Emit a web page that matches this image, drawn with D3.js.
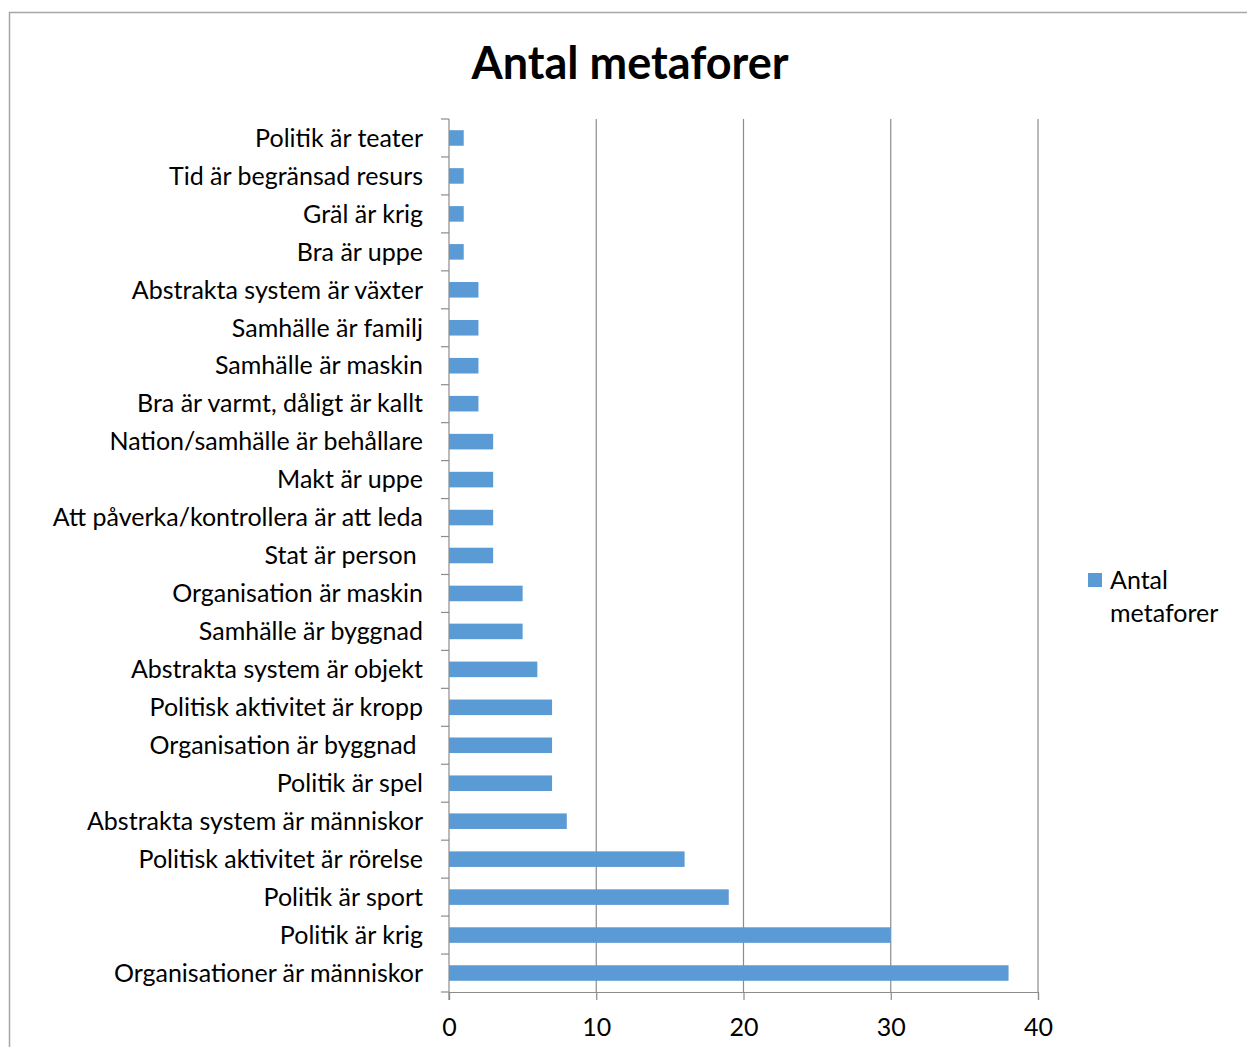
<!DOCTYPE html>
<html>
<head>
<meta charset="utf-8">
<script src="https://cdn.jsdelivr.net/npm/d3@7"></script>
<style>
  body { margin: 0; background: #fff; }
  text { font-family: Lato, "Open Sans", sans-serif; fill: #000; }
</style>
</head>
<body>
<div class="graph-container"></div>
<script>
// data, top of chart first
const categories = [
  "Politik är teater", "Tid är begränsad resurs", "Gräl är krig", "Bra är uppe",
  "Abstrakta system är växter", "Samhälle är familj", "Samhälle är maskin",
  "Bra är varmt, dåligt är kallt", "Nation/samhälle är behållare", "Makt är uppe",
  "Att påverka/kontrollera är att leda", "Stat är person ", "Organisation är maskin",
  "Samhälle är byggnad", "Abstrakta system är objekt", "Politisk aktivitet är kropp",
  "Organisation är byggnad ", "Politik är spel", "Abstrakta system är människor",
  "Politisk aktivitet är rörelse", "Politik är sport", "Politik är krig",
  "Organisationer är människor"
];
const counts = [1, 1, 1, 1, 2, 2, 2, 2, 3, 3, 3, 3, 5, 5, 6, 7, 7, 7, 8, 16, 19, 30, 38];
const xTicks = [0, 10, 20, 30, 40];
const seriesName = "Antal metaforer";

const width = 1247, height = 1047;
const plot = { left: 449, right: 1038, top: 119, bottom: 992 };
const fs = 25;

const svg = d3.select(".graph-container").append("svg")
  .attr("width", width).attr("height", height);

// chart frame
svg.append("rect").attr("x", 9.5).attr("y", 12.5)
  .attr("width", 1260).attr("height", 1060)
  .attr("fill", "none").attr("stroke", "#a6a6a6").attr("stroke-width", 1.5);

svg.append("text").attr("x", 630).attr("y", 79).attr("text-anchor", "middle")
  .attr("font-size", 45).attr("font-weight", "bold").text("Antal metaforer");

const x = d3.scaleLinear().domain([0, 40]).range([plot.left, plot.right]);
const y = d3.scaleBand().domain(categories).range([plot.top, plot.bottom]).paddingInner(0.59).paddingOuter(0.295);

// gridlines
svg.append("g").selectAll("line").data(xTicks.slice(1)).join("line")
  .attr("x1", d => x(d)).attr("x2", d => x(d))
  .attr("y1", plot.top).attr("y2", plot.bottom)
  .attr("stroke", "#8c8c8c").attr("stroke-width", 1.2);

// bars
svg.append("g").selectAll("rect").data(counts).join("rect")
  .attr("x", x(0)).attr("y", (d, i) => y(categories[i]))
  .attr("width", d => x(d) - x(0)).attr("height", y.bandwidth())
  .attr("fill", "#5b9bd5");

// x axis
const xAxis = svg.append("g").attr("transform", `translate(0,${plot.bottom})`)
  .call(d3.axisBottom(x).tickValues(xTicks).tickSize(8).tickPadding(18));
xAxis.select(".domain").attr("stroke", "#8c8c8c").attr("stroke-width", 1.2);
xAxis.selectAll(".tick line").attr("stroke", "#8c8c8c").attr("stroke-width", 1.2);
xAxis.selectAll(".tick text").attr("font-size", fs).attr("font-family", "Lato, sans-serif");

// y axis: ticks sit between categories
const step = y.step();
const yg = svg.append("g");
yg.append("line").attr("x1", plot.left).attr("x2", plot.left)
  .attr("y1", plot.top).attr("y2", plot.bottom + 8)
  .attr("stroke", "#8c8c8c").attr("stroke-width", 1.2);
yg.selectAll("line.tk").data(d3.range(categories.length + 1)).join("line")
  .attr("class", "tk")
  .attr("x1", plot.left - 8).attr("x2", plot.left)
  .attr("y1", i => plot.top + i * step).attr("y2", i => plot.top + i * step)
  .attr("stroke", "#8c8c8c").attr("stroke-width", 1.2);
yg.selectAll("text").data(categories).join("text")
  .attr("x", 423).attr("y", d => y(d) + y.bandwidth() / 2)
  .attr("dy", "0.35em").attr("text-anchor", "end").attr("font-size", fs)
  .attr("xml:space", "preserve")
  .text(d => d);

// legend
const legend = svg.append("g").attr("transform", "translate(1088,573)");
legend.append("rect").attr("width", 14).attr("height", 14).attr("fill", "#5b9bd5");
legend.selectAll("text").data(seriesName.split(" ")).join("text")
  .attr("x", 22).attr("y", (d, i) => 16 + i * 33)
  .attr("font-size", fs).text(d => d);
</script>
</body>
</html>
